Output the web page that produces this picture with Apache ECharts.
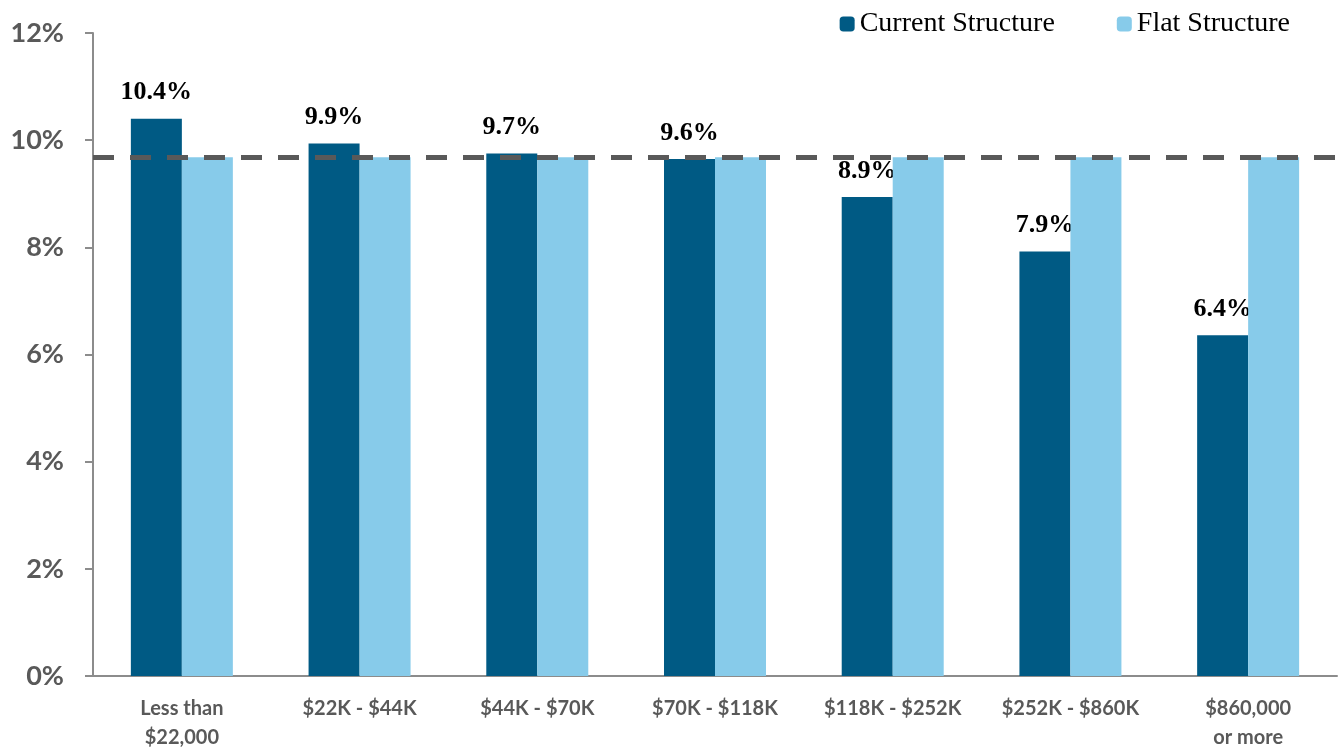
<!DOCTYPE html>
<html>
<head>
<meta charset="utf-8">
<script src="https://cdn.jsdelivr.net/npm/echarts@6/dist/echarts.min.js"></script>
<style>
html,body{margin:0;padding:0;background:#fff;}
#chart{width:1339px;height:752px;}
</style>
</head>
<body>
<div id="chart"></div>
<script>
var categories = ['Less than\n$22,000', '$22K - $44K', '$44K - $70K', '$70K - $118K', '$118K - $252K', '$252K - $860K', '$860,000\nor more'];
var currentValues = [10.4, 9.94, 9.75, 9.65, 8.94, 7.92, 6.36];
var currentLabels = ['10.4%', '9.9%', '9.7%', '9.6%', '8.9%', '7.9%', '6.4%'];
var flatValues = [9.68, 9.68, 9.68, 9.68, 9.68, 9.68, 9.68];
var flatLine = 9.68;
var yTicks = [0, 2, 4, 6, 8, 10, 12];

var myChart = echarts.init(document.getElementById('chart'));

var option = {
    animation: false,
    legend: {
        right: 44,
        top: 5,
        itemWidth: 15,
        itemHeight: 15,
        itemGap: 62,
        textStyle: {
            fontFamily: 'Liberation Serif',
            fontSize: 28,
            color: '#000'
        },
        data: ['Current Structure', 'Flat Structure']
    },
    grid: {
        left: 93,
        right: 2,
        top: 33,
        bottom: 72
    },
    xAxis: {
        type: 'category',
        data: categories,
        axisLine: { lineStyle: { color: '#8c8c8c', width: 2 } },
        axisTick: { show: false },
        axisLabel: {
            color: '#595959',
            fontFamily: 'Lato',
            fontWeight: 'bold',
            fontSize: 20,
            lineHeight: 29,
            margin: 18,
            interval: 0
        }
    },
    yAxis: {
        type: 'value',
        min: yTicks[0],
        max: yTicks[yTicks.length - 1],
        interval: 2,
        splitLine: { show: false },
        axisLine: { show: true, lineStyle: { color: '#8c8c8c', width: 2 } },
        axisTick: { show: true, length: 8, lineStyle: { color: '#8c8c8c', width: 2 } },
        axisLabel: {
            color: '#595959',
            fontFamily: 'Lato',
            fontWeight: 'bold',
            fontSize: 27,
            margin: 29,
            formatter: '{value}%'
        }
    },
    series: [
        {
            name: 'Current Structure',
            type: 'bar',
            barWidth: 51,
            barGap: '0%',
            itemStyle: { color: '#005a84' },
            label: {
                show: true,
                position: 'top',
                distance: 13,
                fontFamily: 'Liberation Serif',
                fontWeight: 'bold',
                fontSize: 26,
                color: '#000',
                formatter: function (p) { return currentLabels[p.dataIndex]; }
            },
            data: currentValues
        },
        {
            name: 'Flat Structure',
            type: 'bar',
            barWidth: 51,
            itemStyle: { color: '#87cbea' },
            data: flatValues,
            markLine: {
                silent: true,
                symbol: 'none',
                label: { show: false },
                lineStyle: { color: '#595959', width: 5, type: [21, 16] },
                data: [{ yAxis: flatLine }]
            },
            z: 3
        }
    ]
};

myChart.setOption(option);
</script>
</body>
</html>
